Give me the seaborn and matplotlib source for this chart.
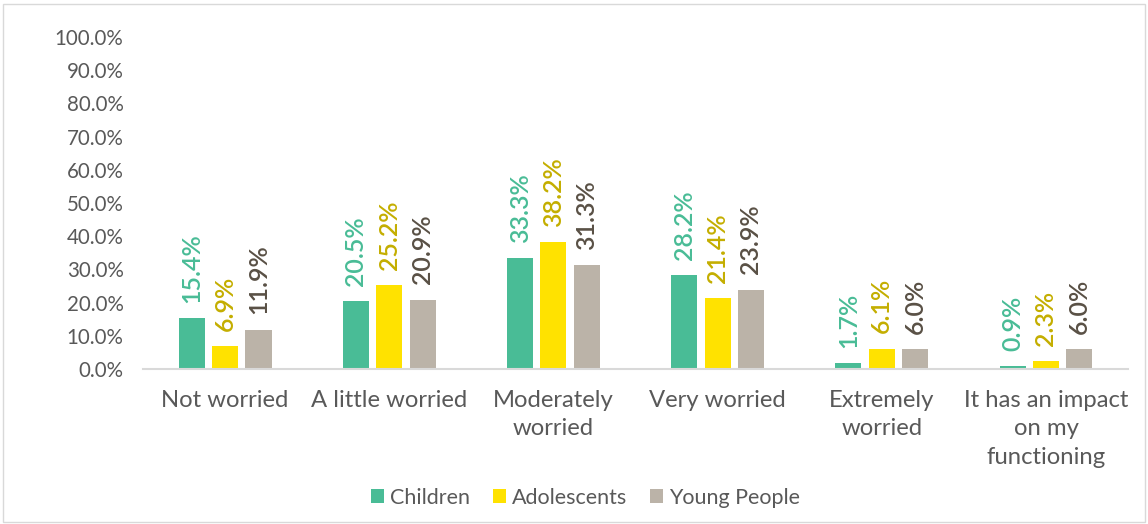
import matplotlib
matplotlib.use("Agg")
import matplotlib.pyplot as plt
import seaborn as sns
import pandas as pd
from matplotlib.ticker import FuncFormatter, MultipleLocator

categories = ["Not worried", "A little worried", "Moderately\nworried", "Very worried",
              "Extremely\nworried", "It has an impact\non my\nfunctioning"]
groups = ["Children", "Adolescents", "Young People"]
children = [15.4, 20.5, 33.3, 28.2, 1.7, 0.9]
adolescents = [6.9, 25.2, 38.2, 21.4, 6.1, 2.3]
young_people = [11.9, 20.9, 31.3, 23.9, 6.0, 6.0]

bar_colors = ["#49BC96", "#FFE200", "#BBB3A8"]
label_colors = ["#49BC96", "#C4AE00", "#595045"]

rows = []
for g, vals in zip(groups, [children, adolescents, young_people]):
    for c, v in zip(categories, vals):
        rows.append({"category": c, "group": g, "value": v})
df = pd.DataFrame(rows)

sns.set_theme(style="white")
plt.rcParams["font.family"] = ["Lato", "DejaVu Sans"]

fig = plt.figure(figsize=(11.48, 5.24), dpi=100)
ax = fig.add_axes([0.1246, 0.2958, 0.858, 0.6334])

sns.barplot(data=df, x="category", y="value", hue="group", order=categories,
            hue_order=groups, palette=bar_colors, saturation=1, width=0.61, gap=0.22,
            edgecolor="none", ax=ax, legend=True)

for cont, col in zip(ax.containers, label_colors):
    ax.bar_label(cont, labels=[f"{v:.1f}%" for v in cont.datavalues], rotation=90,
                 padding=11, color=col, fontsize=18, fontweight="semibold")

ax.set_ylim(0, 100)
ax.yaxis.set_major_locator(MultipleLocator(10))
ax.yaxis.set_major_formatter(FuncFormatter(lambda v, p: f"{v:.1f}%"))
ax.tick_params(axis="y", labelsize=14.8, labelcolor="#595959", length=0, pad=14)
ax.tick_params(axis="x", labelsize=17.2, labelcolor="#595959", length=0, pad=15)
for lbl in ax.get_xticklabels():
    lbl.set_linespacing(1.45)
ax.set_xlabel("")
ax.set_ylabel("")
for s in ["top", "right", "left"]:
    ax.spines[s].set_visible(False)
ax.spines["bottom"].set_color("#D9D9D9")
ax.spines["bottom"].set_linewidth(1.5)

ax.legend_.remove()
handles, labels = ax.get_legend_handles_labels()
fig.legend(handles, labels, loc="center", bbox_to_anchor=(0.51, 0.05), ncol=3,
           frameon=False, fontsize=15.5, labelcolor="#595959", handlelength=0.6,
           handleheight=0.6, handletextpad=0.25, columnspacing=1.1)

border = plt.Rectangle((0.003, 0.003), 0.994, 0.99, transform=fig.transFigure,
                       fill=False, edgecolor="#D9D9D9", linewidth=1)
fig.patches.append(border)

fig.savefig("out.png", dpi=100, facecolor="white")
